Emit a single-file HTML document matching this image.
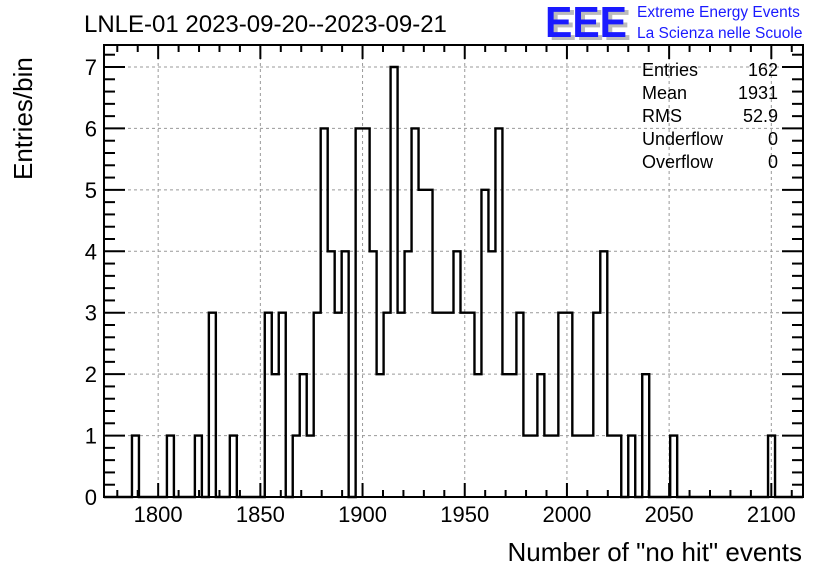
<!DOCTYPE html>
<html><head><meta charset="utf-8"><style>
body{margin:0;background:#fff;}
svg{display:block;font-family:"Liberation Sans",Arial,sans-serif;}
</style></head><body>
<svg id="chart" width="836" height="572" viewBox="0 0 836 572" xmlns="http://www.w3.org/2000/svg">
<rect width="836" height="572" fill="#fff"/>
<g id="grid"></g>
<g id="hist"></g>
<g id="axes"></g>
<text x="84" y="32" font-size="24">LNLE-01 2023-09-20--2023-09-21</text>
<g>
<text x="549" y="40" font-size="44" font-weight="bold" fill="#bbb" textLength="82" lengthAdjust="spacingAndGlyphs">EEE</text>
<text x="545" y="37" font-size="44" font-weight="bold" fill="#1a1aff" textLength="82" lengthAdjust="spacingAndGlyphs">EEE</text>
<text x="637" y="17" font-size="15.5" fill="#1a1aff">Extreme Energy Events</text>
<text x="637" y="38" font-size="15.5" fill="#1a1aff">La Scienza nelle Scuole</text>
</g>
<g font-size="18">
<text x="642" y="76">Entries</text><text x="778" y="76" text-anchor="end">162</text>
<text x="642" y="99">Mean</text><text x="778" y="99" text-anchor="end">1931</text>
<text x="642" y="122">RMS</text><text x="778" y="122" text-anchor="end">52.9</text>
<text x="642" y="145">Underflow</text><text x="778" y="145" text-anchor="end">0</text>
<text x="642" y="168">Overflow</text><text x="778" y="168" text-anchor="end">0</text>
</g>
<text x="802" y="561" font-size="26" text-anchor="end">Number of "no hit" events</text>
<text transform="translate(32,180) rotate(-90)" font-size="26">Entries/bin</text>
</svg>
<script>
const nBins = 100;
const xMin = 1773.5, xMax = 2115.5;
const binIndex = [4,9,13,15,18,23,24,25,27,28,29,30,31,32,33,34,36,37,38,39,40,41,42,43,44,45,46,47,48,49,50,51,52,53,54,55,56,57,58,59,60,61,62,63,64,65,66,67,68,69,70,71,72,73,75,77,81,95];
const binCounts = [1,1,1,3,1,3,2,3,1,2,1,3,6,4,3,4,6,6,4,2,3,7,3,4,6,5,5,3,3,3,4,3,3,2,5,4,6,2,2,3,1,1,2,1,1,3,3,1,1,1,3,4,1,1,1,2,1,1];
const xTicks = [1800,1850,1900,1950,2000,2050,2100];
const yTicks = [0,1,2,3,4,5,6,7];
const L=104,R=803,T=45,B=497,yMax=7.35;
const sx=v=>L+(v-xMin)/(xMax-xMin)*(R-L);
const sy=v=>B-v/7*(B-67);
const NS="http://www.w3.org/2000/svg";
function mk(tag,attrs,parent){const e=document.createElementNS(NS,tag);for(const k in attrs)e.setAttribute(k,attrs[k]);parent.appendChild(e);return e;}
const grid=document.getElementById('grid'),axes=document.getElementById('axes'),hist=document.getElementById('hist');
xTicks.forEach(t=>{const l=mk('line',{x1:sx(t),x2:sx(t),y1:T,y2:B,stroke:'#999','stroke-dasharray':'3,3','stroke-width':1},grid);
});
yTicks.forEach(t=>{if(t===0)return;const l=mk('line',{x1:L,x2:R,y1:sy(t),y2:sy(t),stroke:'#999','stroke-dasharray':'3,3','stroke-width':1},grid);
});
// histogram
const counts=new Array(nBins).fill(0);
binIndex.forEach((b,i)=>counts[b]=binCounts[i]);
const bw=(xMax-xMin)/nBins;
let d='M'+L+','+B;
for(let i=0;i<nBins;i++){const x0=sx(xMin+i*bw),x1=sx(xMin+(i+1)*bw);d+=' L'+x0+','+sy(counts[i])+' L'+x1+','+sy(counts[i]);}
d+=' L'+R+','+B;
const p=mk('path',{d:d,fill:'none',stroke:'#000','stroke-width':2.4,'stroke-linejoin':'miter'},hist);

// frame
const fr=mk('rect',{x:L,y:T,width:R-L,height:B-T,fill:'none',stroke:'#000','stroke-width':2},axes);

// x ticks
for(let v=1780;v<=2110;v+=10){const major=v%50===0;const len=major?14:7;const x=sx(v);
mk('line',{x1:x,x2:x,y1:B,y2:B-len,stroke:'#000','stroke-width':2},axes);
mk('line',{x1:x,x2:x,y1:T,y2:T+len,stroke:'#000','stroke-width':2},axes);}
xTicks.forEach(t=>{const tx=mk('text',{x:sx(t),y:522,'font-size':22,'text-anchor':'middle'},axes);tx.textContent=t;
});
// y ticks
for(let k=0;k<=36;k++){const v=k*0.2;if(v>yMax)break;const major=k%5===0;const len=major?21:11;const y=sy(v);
mk('line',{x1:L,x2:L+len,y1:y,y2:y,stroke:'#000','stroke-width':2},axes);
mk('line',{x1:R,x2:R-len,y1:y,y2:y,stroke:'#000','stroke-width':2},axes);}
yTicks.forEach(t=>{const tx=mk('text',{x:97,y:sy(t)+8,'font-size':22,'text-anchor':'end'},axes);tx.textContent=t;
});
</script>
</body></html>
